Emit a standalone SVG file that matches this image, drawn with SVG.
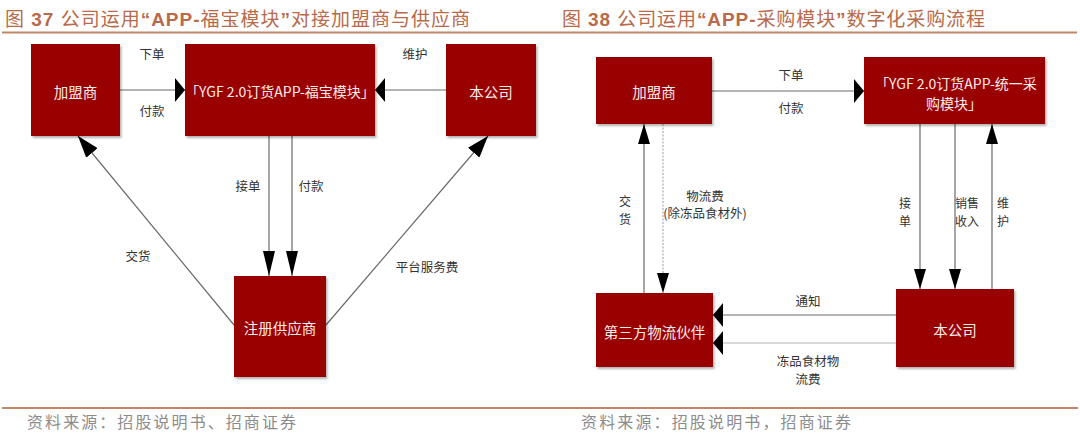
<svg xmlns="http://www.w3.org/2000/svg" width="1080" height="440" viewBox="0 0 1080 440">
<defs>
<style>
.box{fill:#990000;filter:url(#sh)}
.bt{font-family:"Noto Sans CJK SC",sans-serif;font-size:14.5px;fill:#fbecec;text-anchor:middle;dominant-baseline:central}
.bt2{font-family:"Noto Sans CJK SC",sans-serif;font-size:14px;fill:#fbecec;text-anchor:middle;dominant-baseline:central}
.lb{font-family:"Noto Sans CJK SC",sans-serif;font-size:12.5px;fill:#333;text-anchor:middle;dominant-baseline:central}
.vl{font-size:12px}
.ttl{font-family:"Liberation Sans","Noto Sans CJK SC",sans-serif;font-size:19px;fill:#b86a4a}
.ln{stroke:#6a6a6a;stroke-width:1.2;fill:none}
.lt{stroke:#b5b5b5;stroke-width:1.2;fill:none}
.dt{stroke:#9a9a9a;stroke-width:1;fill:none;stroke-dasharray:2 1.5}
.rule{stroke:#c28666;stroke-width:2}
.ft{font-family:"Noto Sans CJK SC",sans-serif;font-size:16px;fill:#8c8c8c}
</style>
<filter id="sh" x="-10%" y="-10%" width="130%" height="130%"><feDropShadow dx="1.5" dy="2" stdDeviation="1.2" flood-color="#000" flood-opacity="0.3"/></filter>
<marker id="mh" viewBox="0 0 10 24" refX="10" refY="12" markerWidth="10" markerHeight="24" markerUnits="userSpaceOnUse" orient="auto"><path d="M0,0 L10,12 L0,24Z" fill="#000"/></marker>
<marker id="mv" viewBox="0 0 25 12" refX="25" refY="6" markerWidth="25" markerHeight="12" markerUnits="userSpaceOnUse" orient="auto"><path d="M0,0 L25,6 L0,12Z" fill="#000"/></marker>
<marker id="mv2" viewBox="0 0 20 12" refX="20" refY="6" markerWidth="20" markerHeight="12" markerUnits="userSpaceOnUse" orient="auto"><path d="M0,0 L20,6 L0,12Z" fill="#000"/></marker>
<marker id="md" viewBox="0 0 22 15" refX="22" refY="7.5" markerWidth="22" markerHeight="15" markerUnits="userSpaceOnUse" orient="auto"><path d="M0,0 L22,7.5 L0,15Z" fill="#000"/></marker>
</defs>
<rect width="1080" height="440" fill="#fff"/>

<g id="titles">
<text class="ttl" x="5" y="26" textLength="465" lengthAdjust="spacing">图 <tspan font-weight="bold">37</tspan> 公司运用<tspan font-weight="bold">“APP-</tspan>福宝模块<tspan font-weight="bold">”</tspan>对接加盟商与供应商</text>
<line class="rule" x1="2" y1="32.5" x2="540" y2="32.5"/>
<text class="ttl" x="562" y="26" textLength="423" lengthAdjust="spacing">图 <tspan font-weight="bold">38</tspan> 公司运用<tspan font-weight="bold">“APP-</tspan>采购模块<tspan font-weight="bold">”</tspan>数字化采购流程</text>
<line class="rule" x1="540" y1="32.5" x2="1077" y2="32.5"/>
</g>

<g id="connectors">
<path class="ln" d="M120,90 H185" marker-end="url(#mh)"/>
<path class="ln" d="M446,90 H375" marker-end="url(#mh)"/>
<path class="ln" d="M269,136 V276" marker-end="url(#mv)"/>
<path class="ln" d="M292,136 V276" marker-end="url(#mv)"/>
<path class="ln" d="M234,325 L78,136" marker-end="url(#md)"/>
<path class="ln" d="M326,325 L488,136" marker-end="url(#md)"/>

<path class="ln" d="M712,91 H864" marker-end="url(#mh)"/>
<path class="ln" d="M644,293 V124" marker-end="url(#mv2)"/>
<path class="dt" d="M663,124 V293" marker-end="url(#mv2)"/>
<path class="ln" d="M920,124 V289" marker-end="url(#mv2)"/>
<path class="ln" d="M955,124 V289" marker-end="url(#mv2)"/>
<path class="ln" d="M992,289 V124" marker-end="url(#mv2)"/>
<path class="ln" d="M896,315 H713" marker-end="url(#mh)"/>
<path class="lt" d="M896,343 H713" marker-end="url(#mh)"/>
</g>

<g id="labels">
<text class="lb" x="152" y="53">下单</text>
<text class="lb" x="152" y="110">付款</text>
<text class="lb" x="415" y="53">维护</text>
<text class="lb" x="248" y="185">接单</text>
<text class="lb" x="311" y="185">付款</text>
<text class="lb" x="138" y="255">交货</text>
<text class="lb" x="427" y="266">平台服务费</text>

<text class="lb" x="791" y="74">下单</text>
<text class="lb" x="791" y="107">付款</text>
<text class="lb vl" x="625" y="200">交</text>
<text class="lb vl" x="625" y="218">货</text>
<text class="lb" x="705" y="195">物流费</text>
<text class="lb" x="705" y="212">(除冻品食材外)</text>
<text class="lb vl" x="905" y="202">接</text>
<text class="lb vl" x="905" y="220">单</text>
<text class="lb vl" x="967" y="202">销售</text>
<text class="lb vl" x="967" y="220">收入</text>
<text class="lb vl" x="1003" y="202">维</text>
<text class="lb vl" x="1003" y="220">护</text>
<text class="lb" x="808" y="300">通知</text>
<text class="lb" x="808" y="360">冻品食材物</text>
<text class="lb" x="808" y="378">流费</text>
</g>

<g id="n-l-jms"><rect class="box" x="31" y="44" width="89" height="92"/><text class="bt" x="75.5" y="91">加盟商</text></g>
<g id="n-l-app"><rect class="box" x="185" y="44" width="190" height="92"/><text class="bt2" x="280" y="91">「YGF 2.0订货APP-福宝模块」</text></g>
<g id="n-l-bgs"><rect class="box" x="446" y="44" width="90" height="92"/><text class="bt" x="491" y="91">本公司</text></g>
<g id="n-l-gys"><rect class="box" x="234" y="276" width="92" height="101"/><text class="bt" x="280" y="327">注册供应商</text></g>

<g id="n-r-jms"><rect class="box" x="596" y="57" width="116" height="67"/><text class="bt" x="654" y="91">加盟商</text></g>
<g id="n-r-app"><rect class="box" x="864" y="57" width="181" height="67"/><text class="bt2" x="956" y="83">「YGF 2.0订货APP-统一采</text><text class="bt2" x="954" y="103">购模块」</text></g>
<g id="n-r-wl"><rect class="box" x="596" y="293" width="117" height="74"/><text class="bt" x="654.5" y="331">第三方物流伙伴</text></g>
<g id="n-r-bgs"><rect class="box" x="896" y="289" width="118" height="78"/><text class="bt" x="955" y="329">本公司</text></g>

<g id="footer">
<line class="rule" x1="2" y1="408" x2="1078" y2="408"/>
<text class="ft" x="27" y="428" textLength="269" lengthAdjust="spacing">资料来源：招股说明书、招商证券</text>
<text class="ft" x="581" y="428" textLength="270" lengthAdjust="spacing">资料来源：招股说明书，招商证券</text>
</g>
</svg>
